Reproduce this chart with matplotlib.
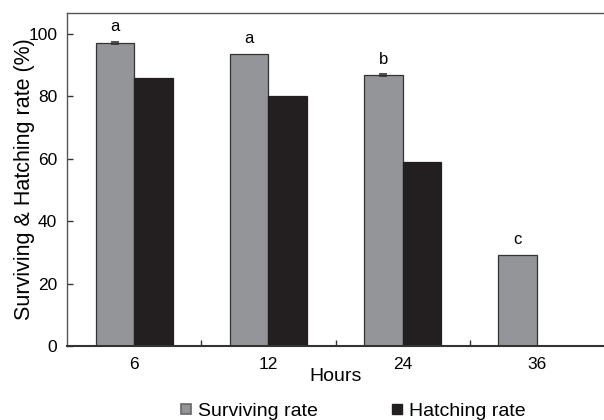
import numpy as np
import matplotlib.pyplot as plt
from matplotlib.lines import Line2D

plt.rcParams['font.family'] = ['Liberation Sans', 'DejaVu Sans']

hours = ['6', '12', '24', '36']
surviving = [97.1, 93.7, 86.7, 29.3]
hatching = [85.9, 80.1, 58.8, 0.0]
surviving_err = [0.3, np.nan, 0.3, np.nan]
letters = ['a', 'a', 'b', 'c']

greyCol = '#939598'
blackCol = '#231f20'
edgeCol = '#333333'

fig = plt.figure(figsize=(6.04, 4.2), dpi=100)
ax = fig.add_axes([67/604, 1-346/420, 1-67/604, (346-13)/420])

x = np.arange(len(hours))
w = 0.287
ax.bar(x - w/2, surviving, w, color=greyCol, edgecolor=edgeCol, linewidth=0.9,
       yerr=surviving_err, capsize=3, error_kw=dict(ecolor=edgeCol, elinewidth=0.8, capthick=1.2))
ax.bar(x + w/2, hatching, w, color=blackCol, edgecolor=blackCol, linewidth=0.9)

tops = np.array(surviving) + np.nan_to_num(surviving_err)
for i, lab in enumerate(letters):
    ax.annotate(lab, (x[i] - w/2, tops[i]), xytext=(0, 11),
                textcoords='offset points', ha='center', va='center', fontsize=12)

ax.set_xlim(-0.5, len(hours) - 0.5)
ax.set_ylim(0, 106.7)
ax.set_yticks(np.arange(0, 101, 20))
ax.set_xticks(x)
ax.set_xticklabels(hours)
ax.set_xticks(np.arange(0.5, len(hours) - 0.5, 1), minor=True)
ax.tick_params(axis='x', which='major', length=0, pad=8, labelsize=12.5)
ax.tick_params(axis='x', which='minor', direction='in', length=4, width=1, color=edgeCol)
ax.tick_params(axis='y', direction='in', length=4, width=1, color=edgeCol, labelsize=12.5, pad=7)

for s in ['top', 'left']:
    ax.spines[s].set_color('#555555')
    ax.spines[s].set_linewidth(1.0)
ax.spines['bottom'].set_color(edgeCol)
ax.spines['bottom'].set_linewidth(1.5)
ax.spines['right'].set_visible(False)

ax.set_ylabel('Surviving & Hatching rate (%)', fontsize=15.5, labelpad=-5)
ax.set_xlabel('Hours', fontsize=14, labelpad=-3)

handles = [Line2D([], [], linestyle='none', marker='s', markersize=6.5, markerfacecolor=greyCol,
                  markeredgecolor='#666666', markeredgewidth=1.2),
           Line2D([], [], linestyle='none', marker='s', markersize=6.5, markerfacecolor=blackCol,
                  markeredgecolor=blackCol)]
fig.legend(handles, ['Surviving rate', 'Hatching rate'], loc='center', bbox_to_anchor=(353/604, 1-411/420),
           ncol=2, frameon=False, fontsize=14, handlelength=0.6, handletextpad=0.3, columnspacing=3.8,
           borderaxespad=0, borderpad=0)

fig.savefig('out.png', dpi=100)
